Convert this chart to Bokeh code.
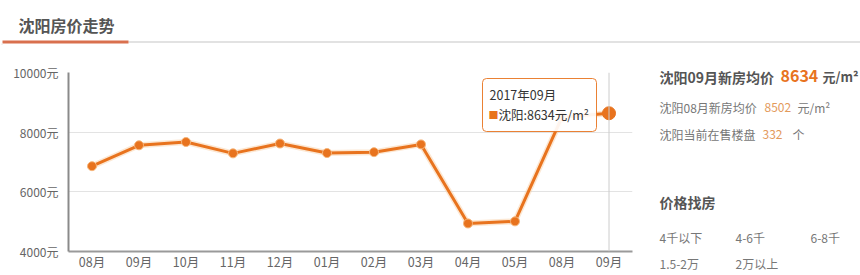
from bokeh.plotting import figure
from bokeh.models import Label, BoxAnnotation, Span, FixedTicker, ColumnDataSource, Range1d
from bokeh.layouts import column, row
from bokeh.embed import file_html
from bokeh.resources import INLINE

# ---- data ----
months = ["08月", "09月", "10月", "11月", "12月", "01月", "02月", "03月", "04月", "05月", "08月", "09月"]
prices = [6860, 7560, 7670, 7290, 7620, 7300, 7330, 7590, 4940, 5010, 8502, 8634]
y_ticks = [4000, 6000, 8000, 10000]
y_tick_labels = ["4000元", "6000元", "8000元", "10000元"]
title_text = "沈阳房价走势"
tooltip_title = "2017年09月"
city = "沈阳"
cur_month = "09月"
prev_month = "08月"
cur_price = 8634
prev_price = 8502
on_sale = 332
price_filters = [["4千以下", "4-6千", "6-8千"], ["1.5-2万", "2万以上"]]

FONT = "Noto Sans CJK SC"
ORANGE = "#e8731e"
TOP_H = 45           # title strip height
CH_W = 640           # chart width
PANEL_W = 860 - CH_W
BODY_H = 275 - TOP_H
L, R, T, B = 68, 8, 72 - TOP_H, 24
FB = 275 - B  # frame bottom in page px


def fx(px):
    return px - L


def fy(py):
    return FB - py


def blank(width, height, x0, x1, y0, y1):
    f = figure(width=width, height=height, x_range=Range1d(x0, x1), y_range=Range1d(y1, y0),
               output_backend="svg", toolbar_location=None, min_border=0)
    f.axis.visible = False
    f.grid.grid_line_color = None
    f.outline_line_color = None
    f.background_fill_color = "white"
    f.border_fill_color = "white"
    return f


def lab(f, text, x, y, size="12px", color="#666666", style="normal", units="data"):
    f.add_layout(Label(x=x, y=y, x_units=units, y_units=units, text=text,
                       text_font=FONT, text_font_size=size, text_color=color,
                       text_font_style=style, text_baseline="middle", text_align="left"))


# ---- title strip ----
top = blank(860, TOP_H, 0, 860, 0, TOP_H)
lab(top, title_text, 18, 24, size="16px", color="#555555", style="bold")
top.segment(x0=[128], y0=[41.5], x1=[860], y1=[41.5], line_color="#e2e2e2", line_width=2)
top.segment(x0=[2], y0=[41.5], x1=[128], y1=[41.5], line_color="#d9704e", line_width=3)
top.segment(x0=[1.5], y0=[43], x1=[1.5], y1=[TOP_H], line_color="#e6e6e6", line_width=1)

# ---- chart ----
xs = list(range(len(months)))
src = ColumnDataSource(dict(x=xs, y=prices))

p = figure(width=CH_W, height=BODY_H, x_range=Range1d(-0.5, len(months) - 0.5),
           y_range=Range1d(4000, 10000), output_backend="svg", toolbar_location=None,
           min_border_left=L, min_border_right=R, min_border_top=T, min_border_bottom=B)
p.outline_line_color = None
p.background_fill_color = "white"
p.border_fill_color = "white"
p.xgrid.grid_line_color = None
p.ygrid.grid_line_color = "#e3e3e3"
p.ygrid.ticker = FixedTicker(ticks=y_ticks)

p.yaxis.ticker = FixedTicker(ticks=y_ticks)
p.yaxis.major_label_overrides = {t: s for t, s in zip(y_ticks, y_tick_labels)}
p.xaxis.ticker = FixedTicker(ticks=xs)
p.xaxis.major_label_overrides = {i: m for i, m in zip(xs, months)}
for ax in (p.xaxis[0], p.yaxis[0]):
    ax.major_tick_line_color = None
    ax.minor_tick_line_color = None
    ax.major_tick_out = 0
    ax.major_tick_in = 0
    ax.major_label_text_font = FONT
    ax.major_label_text_font_size = "12px"
    ax.major_label_text_color = "#666666"
    ax.axis_line_width = 2
p.xaxis.major_label_text_font_size = "12.5px"
p.yaxis.axis_line_color = "#8a8a8a"
p.xaxis.axis_line_color = "#9a9a9a"
p.yaxis.major_label_standoff = 10
p.xaxis.major_label_standoff = 0

# crosshair at hovered point
p.add_layout(Span(location=xs[-1], dimension="height", line_color="#cccccc", line_width=1))

# line with glow
p.line("x", "y", source=src, line_color="#f9cfa6", line_width=6, line_alpha=0.5)
p.line("x", "y", source=src, line_color=ORANGE, line_width=3)
p.scatter("x", "y", source=src, size=9, fill_color=ORANGE, line_color="#f6b57a", line_width=1)
p.scatter(x=[xs[-1]], y=[prices[-1]], size=13, fill_color=ORANGE, line_color=ORANGE, line_width=1)

# tooltip
p.add_layout(BoxAnnotation(left=fx(482), right=fx(596), top=fy(78), bottom=fy(131),
                           left_units="screen", right_units="screen", top_units="screen",
                           bottom_units="screen", fill_color="white", fill_alpha=0.92,
                           line_color=ORANGE, line_width=1, line_alpha=0.9, border_radius=4))
lab(p, tooltip_title, fx(489), fy(94), size="12.5px", color="#333333", units="screen")
lab(p, "■", fx(488), fy(114), size="10px", color=ORANGE, units="screen")
lab(p, f"{city}:{cur_price}元/m²", fx(498), fy(114), size="12.5px", color="#333333", units="screen")

# ---- right panel (coordinates in page pixels) ----
q = blank(PANEL_W, BODY_H, CH_W, 860, TOP_H, 275)
lab(q, f"{city}{cur_month}新房均价", 659, 76, size="14px", color="#555555", style="bold")
lab(q, str(cur_price), 780, 75, size="16px", color=ORANGE, style="bold")
lab(q, "元/m²", 822, 76, size="13px", color="#555555", style="bold")
lab(q, f"{city}{prev_month}新房均价", 659, 107, size="12px", color="#777777")
lab(q, str(prev_price), 764, 107, size="12px", color="#e39a5b")
lab(q, "元/m²", 797, 107, size="12px", color="#777777")
lab(q, f"{city}当前在售楼盘", 659, 134, size="12px", color="#777777")
lab(q, str(on_sale), 762, 134, size="12px", color="#e39a5b")
lab(q, "个", 792, 134, size="12px", color="#777777")
lab(q, "价格找房", 659, 201, size="14px", color="#555555", style="bold")
col_x = [659, 735, 810]
row_y = [237, 263]
for r, rw in enumerate(price_filters):
    for c, t in enumerate(rw):
        lab(q, t, col_x[c], row_y[r], size="12px", color="#777777")

layout = column(top, row(column(p), column(q)))
open("out.html", "w").write(file_html(layout, INLINE))
